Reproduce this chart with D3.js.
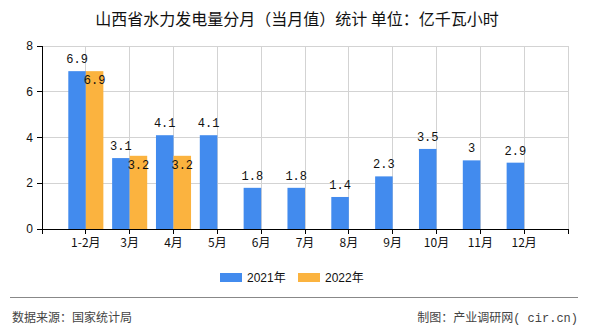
<!DOCTYPE html>
<html><head><meta charset="utf-8">
<script src="https://cdn.jsdelivr.net/npm/d3@7/dist/d3.min.js"></script>
<style>body{margin:0;background:#fff}svg{display:block}</style>
</head><body>
<svg id="c" width="590" height="330"></svg>
<script>
const categories = ["1-2月","3月","4月","5月","6月","7月","8月","9月","10月","11月","12月"];
const values2021 = [6.9,3.1,4.1,4.1,1.8,1.8,1.4,2.3,3.5,3,2.9];
const values2022 = [6.9,3.2,3.2];
const yTicks = [0,2,4,6,8];
const seriesNames = ["2021年","2022年"];
const colors = ["#428BEE","#FBB33F"];

const svg = d3.select("#c");
const L=42, R=568, T=46, B=229;
const x = d3.scalePoint().domain(categories).range([L,R]).padding(1);
const y = d3.scaleLinear().domain([0,8]).range([B,T]);
const bw = x.step()*0.4;

svg.append("text").attr("x",297).attr("y",25).attr("text-anchor","middle")
  .attr("font-family","Noto Sans CJK SC").attr("font-size",16).attr("fill","#111")
  .style("white-space","pre")
  .text("山西省水力发电量分月（当月值）统计\u00a0单位：亿千瓦小时");

// grid
const g = svg.append("g");
g.selectAll("line.h").data(yTicks.filter(d=>d>0)).join("line")
  .attr("x1",L).attr("x2",R).attr("y1",d=>y(d)).attr("y2",d=>y(d))
  .attr("stroke","#d3d3d3").attr("stroke-width",1).attr("shape-rendering","crispEdges");
g.selectAll("line.v").data(categories.map(c=>x(c)).concat([R])).join("line")
  .attr("x1",d=>d).attr("x2",d=>d).attr("y1",T).attr("y2",B)
  .attr("stroke","#d3d3d3").attr("stroke-width",1).attr("shape-rendering","crispEdges");

// bars
const s1 = categories.map((c,i)=>({c,v:values2021[i]}));
const s2 = values2022.map((v,i)=>({c:categories[i],v}));
svg.append("g").selectAll("rect").data(s1).join("rect")
  .attr("x",d=>x(d.c)-bw).attr("width",bw).attr("y",d=>y(d.v)).attr("height",d=>B-y(d.v)).attr("fill",colors[0]);
svg.append("g").selectAll("rect").data(s2).join("rect")
  .attr("x",d=>x(d.c)).attr("width",bw).attr("y",d=>y(d.v)).attr("height",d=>B-y(d.v)).attr("fill",colors[1]);

const lf = "Liberation Mono, DejaVu Sans Mono, monospace";
svg.append("g").selectAll("text").data(s1).join("text")
  .attr("x",d=>x(d.c)-bw/2).attr("y",d=>y(d.v)-8).attr("text-anchor","middle")
  .attr("font-family",lf).attr("font-size",12).attr("fill","#111").text(d=>d.v);
svg.append("g").selectAll("text").data(s2).join("text")
  .attr("x",d=>x(d.c)+bw/2).attr("y",d=>y(d.v)+13).attr("text-anchor","middle")
  .attr("font-family",lf).attr("font-size",12).attr("fill","#111").text(d=>d.v);

// axes
const xa = svg.append("g").attr("transform",`translate(0,${B})`);
xa.append("line").attr("x1",L).attr("x2",R).attr("stroke","#000").attr("shape-rendering","crispEdges");
xa.selectAll("line.t").data([L].concat(categories.map(c=>x(c))).concat([R])).join("line")
  .attr("x1",d=>d).attr("x2",d=>d).attr("y1",0).attr("y2",5).attr("stroke","#000").attr("shape-rendering","crispEdges");
xa.selectAll("text").data(categories).join("text")
  .attr("x",d=>x(d)).attr("y",18).attr("text-anchor","middle")
  .attr("font-family","Noto Sans CJK SC").attr("font-size",12).attr("fill","#111").text(d=>d);

const ya = svg.append("g").attr("transform",`translate(${L},0)`);
ya.append("line").attr("y1",T).attr("y2",B).attr("stroke","#000").attr("shape-rendering","crispEdges");
ya.selectAll("line.t").data(yTicks).join("line")
  .attr("x1",-5).attr("x2",0).attr("y1",d=>y(d)).attr("y2",d=>y(d)).attr("stroke","#000").attr("shape-rendering","crispEdges");
ya.selectAll("text").data(yTicks).join("text")
  .attr("x",-9).attr("y",d=>y(d)+4).attr("text-anchor","end")
  .attr("font-family","Liberation Sans, Arial").attr("font-size",12).attr("fill","#111").text(d=>d);

// legend
const lg = svg.append("g");
const lx = [220,298];
seriesNames.forEach((n,i)=>{
  lg.append("rect").attr("x",lx[i]).attr("y",273).attr("width",22).attr("height",9).attr("fill",colors[i]);
  lg.append("text").attr("x",lx[i]+27).attr("y",282).attr("font-family","Liberation Sans, Arial")
    .attr("font-size",12).attr("fill","#111").text(n.replace("年","")).append("tspan")
    .attr("font-family","Noto Sans CJK SC").text("年");
});

// footer
svg.append("line").attr("x1",10).attr("x2",578).attr("y1",297.5).attr("y2",297.5).attr("stroke","#888").attr("stroke-width",1);
svg.append("text").attr("x",12).attr("y",322).attr("font-family","Noto Sans CJK SC").attr("font-size",12).attr("fill","#444").text("数据来源：国家统计局");
svg.append("text").attr("x",578).attr("y",322).attr("text-anchor","end").attr("font-family","Noto Sans CJK SC").attr("font-size",12).attr("fill","#444")
  .text("制图：产业调研网").append("tspan").attr("font-family",lf).text("( cir.cn)");
</script>
</body></html>
